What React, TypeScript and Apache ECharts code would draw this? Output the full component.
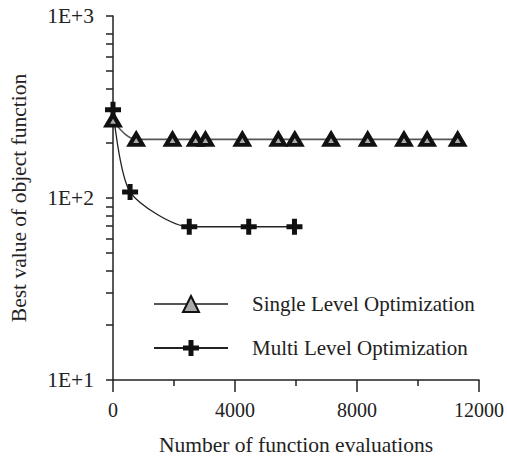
import React, { useEffect, useRef } from "react";
import * as echarts from "echarts";

const seriesNames = ["Single Level Optimization", "Multi Level Optimization"];

const singleX = [0, 760, 1950, 2710, 3030, 4240, 5420, 5960, 7150, 8350, 9540, 10300, 11300];
const singleY = [268, 210, 210, 210, 210, 210, 210, 210, 210, 210, 210, 210, 210];

const multiX = [0, 560, 2500, 4450, 5950];
const multiY = [305, 108, 69.5, 69.5, 69.5];

const xTicks = [0, 4000, 8000, 12000];
const yTickValues = [10, 20, 30, 40, 50, 60, 70, 80, 90, 100, 200, 300, 400, 500, 600, 700, 800, 1000];

const FONT = '"Liberation Serif", "Times New Roman", serif';
const PLUS = "path://M5.5,0 H10.5 V5.5 H16 V10.5 H10.5 V16 H5.5 V10.5 H0 V5.5 H5.5 Z";

export default function App() {
  const ref = useRef<HTMLDivElement>(null);
  useEffect(() => {
    document.body.style.margin = "0";
    const chart = echarts.init(ref.current!, null, { renderer: "svg" });
    chart.setOption({
      animation: false,
      backgroundColor: "#fff",
      grid: { left: 113, right: 25, top: 16, bottom: 75.5 },
      legend: {
        orient: "vertical",
        left: 153,
        top: 292,
        padding: 0,
        itemWidth: 74,
        itemHeight: 20,
        itemGap: 20,
        data: seriesNames,
        textStyle: { fontFamily: FONT, fontSize: 21, color: "#222", lineHeight: 24, padding: [0, 0, 0, 19] },
      },
      xAxis: {
        type: "value",
        min: xTicks[0],
        max: xTicks[xTicks.length - 1],
        interval: 4000,
        name: "Number of function evaluations",
        nameLocation: "middle",
        nameGap: 54,
        nameTextStyle: { fontFamily: FONT, fontSize: 21.5, color: "#222" },
        axisLine: { lineStyle: { color: "#222", width: 1.5 } },
        axisTick: { length: 12, lineStyle: { color: "#222", width: 1.5 } },
        minorTick: { show: true, splitNumber: 2, length: 6, lineStyle: { color: "#222", width: 1.5 } },
        splitLine: { show: false },
        axisLabel: { fontFamily: FONT, fontSize: 20, color: "#222", margin: 20, formatter: (v: number) => String(v) },
      },
      yAxis: {
        type: "log",
        logBase: 10,
        min: 10,
        max: 1000,
        name: "Best value of object function",
        nameLocation: "middle",
        nameGap: 83,
        nameTextStyle: { fontFamily: FONT, fontSize: 21.5, color: "#222" },
        axisLine: { show: true, lineStyle: { color: "#222", width: 1.5 } },
        axisTick: { show: true, length: 7, customValues: yTickValues, lineStyle: { color: "#222", width: 1.5 } },
        splitLine: { show: false },
        axisLabel: {
          fontFamily: FONT,
          fontSize: 21.5,
          color: "#222",
          margin: 19,
          formatter: (v: number) => "1E+" + Math.round(Math.log10(v)),
        },
      },
      series: [
        {
          name: seriesNames[0],
          type: "line",
          data: singleX.map((x, i) => [x, singleY[i]]),
          smooth: 0.4,
          symbol: "triangle",
          symbolSize: [13, 11],
          lineStyle: { color: "#555", width: 1.6 },
          itemStyle: { color: "#aaa", borderColor: "#111", borderWidth: 4 },
        },
        {
          name: seriesNames[1],
          type: "line",
          data: multiX.map((x, i) => [x, multiY[i]]),
          smooth: 0.25,
          symbol: PLUS,
          symbolSize: 16,
          lineStyle: { color: "#222", width: 1.3 },
          itemStyle: { color: "#111" },
        },
      ],
    });
    return () => chart.dispose();
  }, []);
  return <div ref={ref} style={{ width: 507, height: 461 }} />;
}
